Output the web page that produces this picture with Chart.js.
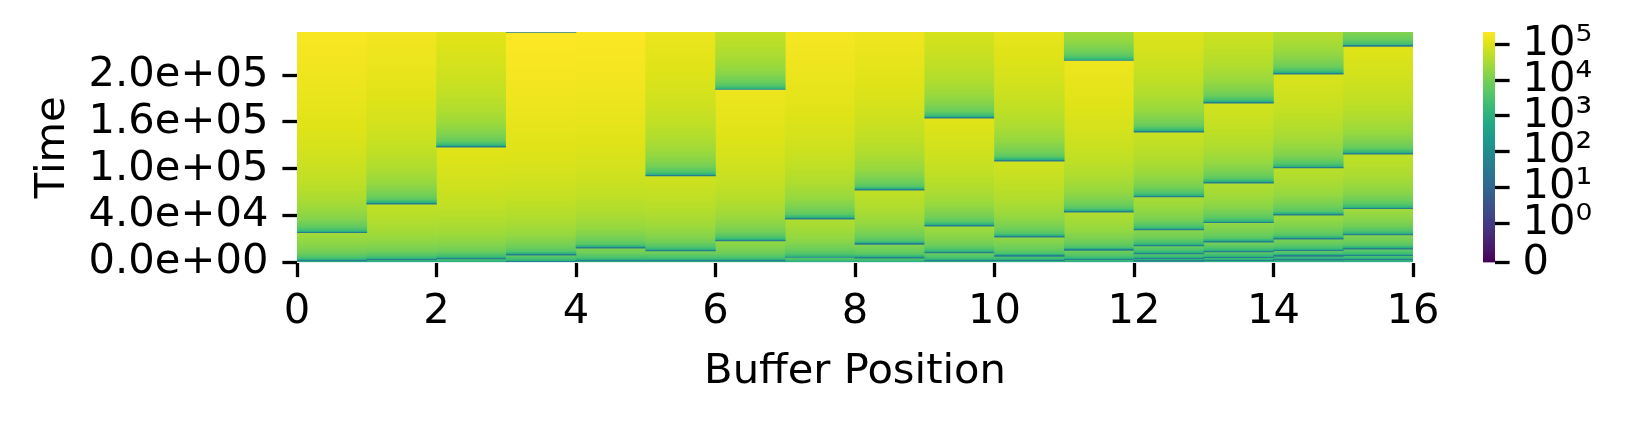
<!DOCTYPE html>
<html lang="en">
<head>
    <meta charset="UTF-8">
    <title>Buffer Position vs Time</title>
    <script src="https://cdn.jsdelivr.net/npm/chart.js"></script>
    <style>
        html, body { margin: 0; padding: 0; background: #fff; }
        .box { position: absolute; top: 0; }
        #mainBox { left: 0; width: 1626px; height: 423px; }
        #cbarBox { left: 1483px; width: 143px; height: 423px; }
    </style>
</head>
<body>
    <div id="mainBox" class="box"><canvas id="heatmap"></canvas></div>
    <div id="cbarBox" class="box"><canvas id="colorbar"></canvas></div>

    <script>
        // buffer positions (one column each)
        const positions = [0, 1, 2, 3, 4, 5, 6, 7, 8, 9, 10, 11, 12, 13, 14, 15];
        // rows (time bins) at which each position was reset
        const resetRows = [
            [1.6, 31.8],
            [2.7, 62.2],
            [3.7, 123.1],
            [0.9, 7.7, 245.5],
            [1.6, 15.2],
            [1.6, 12.3, 92.4],
            [1.6, 23.0, 184.6],
            [5.3, 46.2],
            [4.5, 19.4, 77.1],
            [1.6, 10.1, 38.7, 154.1],
            [1.9, 6.6, 26.9, 108.1],
            [3.0, 13.0, 53.6, 215.6],
            [1.3, 4.1, 9.1, 17.6, 34.7, 70.0, 139.1],
            [1.9, 5.1, 11.2, 21.6, 42.5, 84.6, 170.1],
            [2.4, 6.6, 12.6, 24.8, 50.4, 101.0, 201.1],
            [2.7, 7.3, 14.1, 29.4, 57.5, 115.6, 230.6]
        ];
        const rowCount = 246;
        const rowTime = 950;
        const firstRowAge = 40;

        const xTicks = [0, 2, 4, 6, 8, 10, 12, 14, 16];
        const yTickRows = [0, 50, 100, 150, 200];
        const yTickLabels = ['0.0e+00', '4.0e+04', '1.0e+05', '1.6e+05', '2.0e+05'];

        const cbarValues = [0, 1, 10, 100, 1000, 10000, 100000];
        const cbarLabels = ['0', '10⁰', '10¹', '10²', '10³', '10⁴', '10⁵'];
        const vmax = 2.24e5;

        const FONT = { family: "'DejaVu Sans', sans-serif", size: 41.67 };

        // symlog norm, linthresh 1
        const LINSCALE = 1 / (1 - 1 / 10);
        function symlog(v) {
            return v <= 1 ? v * LINSCALE : LINSCALE + Math.log10(v);
        }
        const CBAR_TOP = symlog(vmax);

        const VIRIDIS = ['#440154', '#471365', '#482475', '#463480', '#414487', '#3b528b', '#355f8d',
            '#2f6c8e', '#2a788e', '#25848e', '#21918c', '#1e9c89', '#22a884', '#2fb47c', '#44bf70',
            '#5ec962', '#7ad151', '#9bd93c', '#bddf26', '#dfe318', '#fde725'];
        const VIR_RGB = VIRIDIS.map(h => [1, 3, 5].map(k => parseInt(h.slice(k, k + 2), 16)));

        function viridis(t) {
            t = Math.min(1, Math.max(0, t));
            const s = t * (VIR_RGB.length - 1);
            const i = Math.min(Math.floor(s), VIR_RGB.length - 2);
            const f = s - i;
            const a = VIR_RGB[i], b = VIR_RGB[i + 1];
            const c = a.map((v, k) => Math.round(v + (b[k] - v) * f));
            return `rgb(${c[0]},${c[1]},${c[2]})`;
        }

        // each segment runs from one reset to the next; value = time since reset
        function segmentFill(ctx) {
            const chart = ctx.chart;
            const raw = ctx.raw;
            if (!chart.chartArea || !raw) return viridis(0.9);
            const ys = chart.scales.y;
            const r0 = raw.y[0], r1 = raw.y[1];
            const g = chart.ctx.createLinearGradient(0, ys.getPixelForValue(r0), 0, ys.getPixelForValue(r1));
            const len = r1 - r0;
            for (let j = 0; j < len; j++) {
                const c = viridis(symlog(j * rowTime + firstRowAge) / CBAR_TOP);
                g.addColorStop(j / len, c);
                g.addColorStop(Math.min(1, (j + 1) / len), c);
            }
            return g;
        }

        const segDatasets = [];
        positions.forEach((p, c) => {
            const edges = [0, ...resetRows[c], rowCount];
            for (let k = 0; k < edges.length - 1; k++) {
                if (!segDatasets[k]) {
                    segDatasets[k] = {
                        data: [],
                        backgroundColor: segmentFill,
                        borderWidth: 0,
                        grouped: false,
                        barPercentage: 1,
                        categoryPercentage: 1
                    };
                }
                segDatasets[k].data.push({ x: p + 0.5, y: [edges[k], edges[k + 1]] });
            }
        });
        // upper segments drawn last so their reset line stays on top
        segDatasets.reverse();

        const tickGrid = {
            display: true,
            offset: false,
            drawOnChartArea: false,
            drawTicks: true,
            tickLength: 14.6,
            tickWidth: 3.3,
            tickColor: '#000'
        };

        function noPad(s) {
            s.paddingTop = 0;
            s.paddingBottom = 0;
            s.paddingLeft = 0;
            s.paddingRight = 0;
        }

        new Chart(document.getElementById('heatmap'), {
            type: 'bar',
            data: { datasets: segDatasets },
            options: {
                responsive: true,
                maintainAspectRatio: false,
                animation: false,
                layout: { padding: { top: 32, right: 213, left: 0, bottom: 0 } },
                plugins: { legend: { display: false }, tooltip: { enabled: false } },
                scales: {
                    x: {
                        type: 'linear',
                        min: 0,
                        max: 16,
                        offset: false,
                        afterBuildTicks: s => { s.ticks = xTicks.map(v => ({ value: v })); },
                        afterFit: s => { s.height = 423 - 262.5; noPad(s); },
                        grid: tickGrid,
                        border: { display: false },
                        ticks: { color: '#000', font: FONT, padding: 10, maxRotation: 0, autoSkip: false },
                        title: {
                            display: true,
                            text: 'Buffer Position',
                            color: '#000',
                            font: FONT,
                            padding: { top: 0, bottom: 26 }
                        }
                    },
                    y: {
                        type: 'linear',
                        min: 0,
                        max: rowCount,
                        afterBuildTicks: s => { s.ticks = yTickRows.map(v => ({ value: v })); },
                        afterFit: s => { s.width = 297; noPad(s); },
                        grid: tickGrid,
                        border: { display: false },
                        ticks: {
                            color: '#000',
                            font: FONT,
                            padding: 14,
                            autoSkip: false,
                            callback: v => yTickLabels[yTickRows.indexOf(v)]
                        },
                        title: {
                            display: true,
                            text: 'Time',
                            color: '#000',
                            font: FONT,
                            padding: { top: 28, bottom: 0 }
                        }
                    }
                }
            }
        });

        function cbarFill(ctx) {
            const chart = ctx.chart;
            if (!chart.chartArea) return viridis(0.5);
            const ys = chart.scales.y;
            const g = chart.ctx.createLinearGradient(0, ys.getPixelForValue(0), 0, ys.getPixelForValue(CBAR_TOP));
            for (let i = 0; i < VIRIDIS.length; i++) {
                g.addColorStop(i / (VIRIDIS.length - 1), VIRIDIS[i]);
            }
            return g;
        }

        const cbarPos = cbarValues.map(symlog);

        new Chart(document.getElementById('colorbar'), {
            type: 'bar',
            data: {
                labels: ['colorbar'],
                datasets: [{
                    data: [[0, CBAR_TOP]],
                    backgroundColor: cbarFill,
                    borderWidth: 0,
                    barPercentage: 1,
                    categoryPercentage: 1
                }]
            },
            options: {
                responsive: true,
                maintainAspectRatio: false,
                animation: false,
                layout: { padding: { top: 32, right: 0, left: 0, bottom: 423 - 262.7 } },
                plugins: { legend: { display: false }, tooltip: { enabled: false } },
                scales: {
                    x: { display: false },
                    y: {
                        position: 'right',
                        min: 0,
                        max: CBAR_TOP,
                        afterBuildTicks: s => { s.ticks = cbarPos.map(v => ({ value: v })); },
                        afterFit: s => { s.width = 143 - 12; noPad(s); },
                        grid: tickGrid,
                        border: { display: false },
                        ticks: {
                            color: '#000',
                            font: FONT,
                            padding: 13,
                            autoSkip: false,
                            callback: (v, i) => cbarLabels[i]
                        }
                    }
                }
            }
        });
    </script>
</body>
</html>
